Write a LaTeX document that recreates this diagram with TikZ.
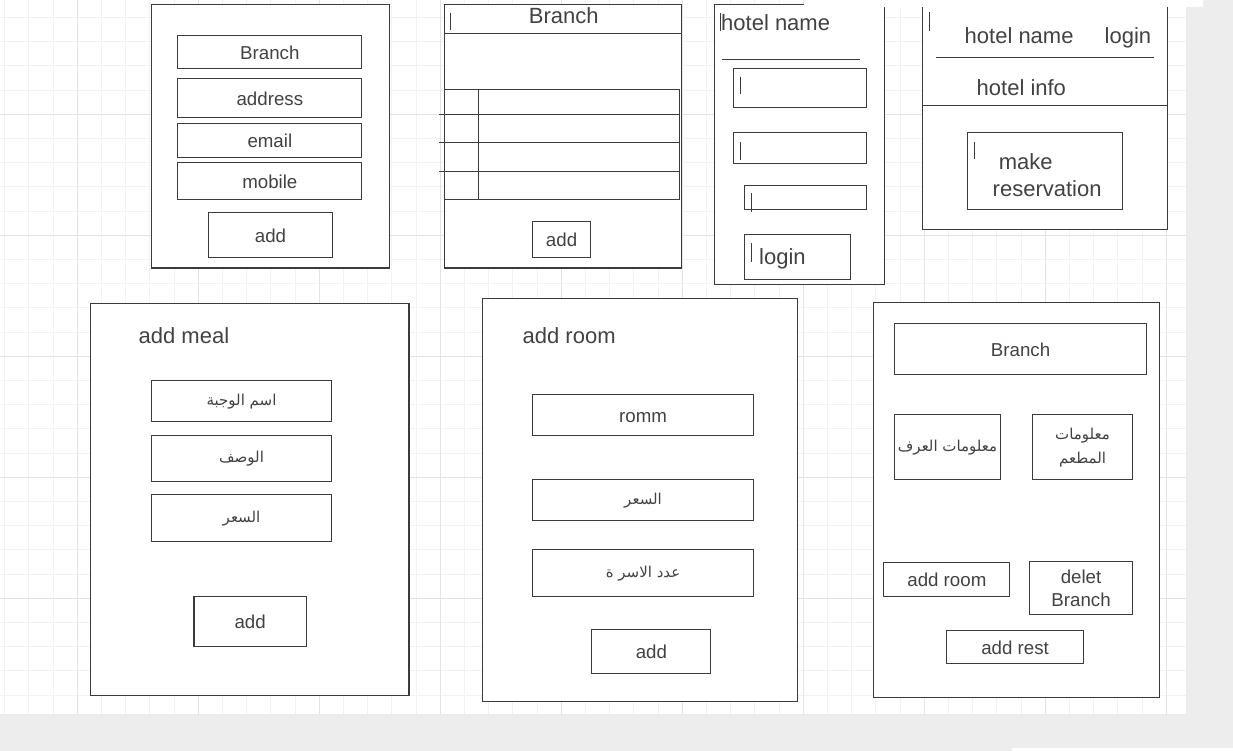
\documentclass[tikz,border=0pt]{standalone}
\usepackage{fontspec}
\setmainfont{Liberation Sans}
\newfontfamily\arabicfont[Script=Arabic]{DejaVu Sans}
\TeXXeTstate=1
\usetikzlibrary{positioning}

\definecolor{ink}{HTML}{3B3B3B}
\definecolor{inktext}{HTML}{424242}
\definecolor{canvas}{HTML}{EDEDED}
\definecolor{gridminor}{HTML}{F2F2F2}
\definecolor{gridmajor}{HTML}{E3E3E3}

\newcommand{\fieldfont}{\fontsize{18.7}{22.7}\selectfont}
\newcommand{\headfont}{\fontsize{22}{26.7}\selectfont}
\newcommand{\arfont}{\arabicfont\fontsize{15}{24}\selectfont}

\tikzset{
  frame/.style={draw=ink, line width=1.1pt, fill=white},
  box/.style 2 args={draw=ink, line width=1.1pt, fill=white, text=inktext, inner sep=0pt,
    anchor=north west, minimum width=#1, minimum height=#2},
  field/.style={font=\fieldfont, text height=13.4pt, text depth=0pt},
  twoline/.style={font=\fieldfont, align=center},
  arfield/.style={font=\arfont, align=center},
  head/.style={font=\headfont, text=inktext, inner sep=0pt, anchor=base west},
  cursor/.style={draw=ink, line width=1pt},
}

\begin{document}
\begin{tikzpicture}[x=1pt, y=-1pt]
    \useasboundingbox (0,0) rectangle (1233,751);
    % canvas and grid
    \fill[canvas] (0,0) rectangle (1233,751);
    \fill[white] (0,0) rectangle (1185.5,714);
    \draw[gridmajor!70, line width=1.5pt] (1186.5,0) -- (1186.5,715) -- (0,715);
    \foreach \k in {0,...,48} {
        \draw[gridminor, line width=1pt] ({4.7+24.2*\k},0) -- ++(0,714);
    }
    \foreach \k in {0,...,28} {
        \draw[gridminor, line width=1pt] (0,{17.5+24.2*\k}) -- ++(1185.5,0);
    }
    \foreach \k in {3,8,...,48} {
        \draw[gridmajor, line width=1pt] ({4.7+24.2*\k},0) -- ++(0,714);
    }
    \foreach \k in {4,9,...,24} {
        \draw[gridmajor, line width=1pt] (0,{17.5+24.2*\k}) -- ++(1185.5,0);
    }

    % branch form
    \draw[frame] (151.3,4.3) rectangle (389.3,268);
    \node[box={184pt}{33pt}, field] (brname) at (177.3,35.3) {Branch};
    \node[box={184pt}{39pt}, field] (braddress) at (177.3,78.3) {address};
    \node[box={184pt}{34pt}, field] (bremail) at (177.3,123.3) {email};
    \node[box={184pt}{37pt}, field] (brmobile) at (177.3,162.3) {mobile};
    \node[box={123.4pt}{45pt}, field] (bradd) at (208.3,212.3) {add};

    % branch list
    \draw[frame] (444.3,4.3) rectangle (681.3,268);
    \draw[frame] (444.3,33.3) -- (681.3,33.3);
    \draw[cursor] (450.7,12.7) -- ++(0,17.3);
    \node[head, anchor=base] (listtitle) at (563.7,24) {Branch};
    \foreach \ya/\yb in {89.3/114.3, 114.3/142.3, 142.3/171.3, 171.3/199.3} {
        \draw[frame] (444.3,\ya) rectangle (679.3,\yb);
    }
    \draw[frame] (478.7,89.3) -- (478.7,199.3);
    \foreach \y in {114.3,142.3,171.3} {
        \draw[frame] (439,\y) -- (444.3,\y);
    }
    \node[box={57.4pt}{36pt}, field] (listadd) at (532.3,221.3) {add};

    % login page
    \draw[frame] (714.3,4.4) rectangle (884.5,284.3);
    \draw[cursor] (720.4,13.3) -- ++(0,17.7);
    \node[head] (logtitle) at (721,31) {hotel name};
    \draw[frame] (722,59.3) -- (859.8,59.3);
    \node[box={132.2pt}{38.4pt}] (loguser) at (733.3,68.3) {};
    \draw[cursor] (740,76.7) -- ++(0,17.6);
    \node[box={132.2pt}{31pt}] (logpass) at (733.3,132.3) {};
    \draw[cursor] (740,141.7) -- ++(0,18.3);
    \node[box={121.3pt}{24pt}] (logextra) at (744.2,185.3) {};
    \draw[cursor] (751,193.3) -- ++(0,18.4);
    \node[box={105.4pt}{45pt}] (logbtn) at (744.2,234.3) {};
    \draw[cursor] (751,243.3) -- ++(0,18.4);
    \node[head] (logtext) at (759,264.3) {login};

    % hotel home page
    \draw[frame] (922.3,4.4) rectangle (1167.7,229.3);
    \draw[cursor] (929.8,12.3) -- ++(0,18.4);
    \node[head] (homename) at (964.5,44) {hotel name};
    \node[head] (homelogin) at (1104.5,44) {login};
    \draw[frame] (935.9,57.7) -- (1153.8,57.7);
    \node[head] (homeinfo) at (976.5,95.7) {hotel info};
    \draw[frame] (922.3,105.7) -- (1167.7,105.7);
    \node[box={154.3pt}{77pt}] (resbtn) at (967.2,132.3) {};
    \draw[cursor] (974,141.7) -- ++(0,17.6);
    \node[head] (resmake) at (998.6,170) {make};
    \node[head] (resword) at (992.5,196.7) {reservation};

    % add meal
    \draw[frame] (90.5,303.3) rectangle (409,695.3);
    \node[head] (mealtitle) at (138.5,343.3) {add meal};
    \node[box={179.4pt}{41pt}, arfield] (mealname) at (151.3,380.3) {\beginR اسم الوجبة\endR};
    \node[box={179.4pt}{46pt}, arfield] (mealdesc) at (151.3,435.3) {\beginR الوصف\endR};
    \node[box={179.4pt}{46.7pt}, arfield] (mealprice) at (151.3,494.3) {\beginR السعر\endR};
    \node[box={112.4pt}{50.3pt}, field] (mealadd) at (193.4,596) {add};

    % add room
    \draw[frame] (482.7,298.7) rectangle (797.3,701.3);
    \node[head] (roomtitle) at (522.5,343.3) {add room};
    \node[box={220.4pt}{41pt}, field] (roomname) at (532.3,394.3) {romm};
    \node[box={220.4pt}{41pt}, arfield] (roomprice) at (532.3,479.3) {\beginR السعر\endR};
    \node[box={220.4pt}{46.7pt}, arfield] (roombeds) at (532.3,549.3) {\beginR عدد الاسر ة\endR};
    \node[box={119pt}{44pt}, field] (roomadd) at (591.3,629.3) {add};

    % branch details
    \draw[frame] (873.3,302.7) rectangle (1159.3,697.7);
    \node[box={251.4pt}{51pt}, field] (detname) at (894.3,323.3) {Branch};
    \node[box={105.4pt}{65pt}, arfield] (detrooms) at (894.3,414.3) {\beginR معلومات العرف\endR};
    \node[box={99.4pt}{65pt}, arfield] (detrest) at (1032.3,414.3) {\beginR معلومات\endR\\\beginR المطعم\endR};
    \node[box={126pt}{34pt}, field] (detaddroom) at (883.3,562.3) {add room};
    \node[box={102.4pt}{53pt}, twoline] (detdelete) at (1029.3,561.3) {delet\\Branch};
    \node[box={136.4pt}{33pt}, field] (detaddrest) at (946.3,630.3) {add rest};

    % white strips over the edges
    \fill[white] (803.5,0) rectangle (1203,7);
    \fill[white] (1012,747.7) rectangle (1233,751);
\end{tikzpicture}
\end{document}
